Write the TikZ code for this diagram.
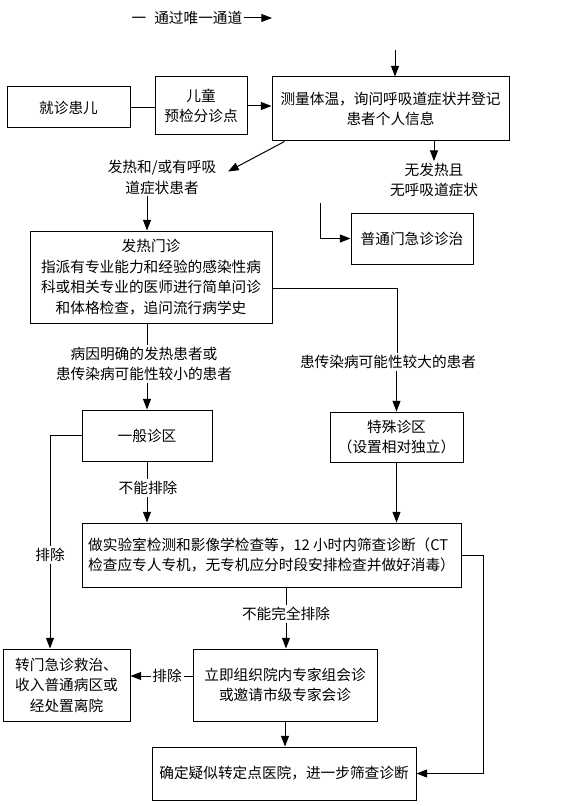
\documentclass[tikz,border=0pt]{standalone}
\usepackage{fontspec}
\newfontfamily\cjk{Noto Sans CJK SC}
\usetikzlibrary{arrows.meta,calc}

\begin{document}
\begin{tikzpicture}[x=0.75pt, y=-0.75pt, line width=0.75pt,
		every node/.style={font=\cjk\fontsize{11pt}{15.4pt}\selectfont},
		box/.style={draw, align=center, inner sep=0pt},
		lbl/.style={align=center, inner sep=1pt},
		arr/.style={-{Triangle[length=8pt, width=6pt]}}]
	\useasboundingbox (0,0) rectangle (565,806);
		\node[lbl](entry) at (187,18) {一\hspace{6pt}通过唯一通道};
		\coordinate (entryend) at (272,18);
		\coordinate (arrive) at (395,50);
		\node[box, minimum width=92.25pt, minimum height=30.75pt](patient) at (68.5,107.5) {就诊患儿};
		\node[box, minimum width=69pt, minimum height=43.5pt](triage) at (201,106) {儿童\\预检分诊点};
		\node[box, minimum width=177.75pt, minimum height=48pt](measure) at (390.5,109) {测量体温，询问呼吸道症状并登记\\患者个人信息};
		\node[lbl](fever) at (162,177.5) {发热和/或有呼吸\\道症状患者};
		\node[lbl](nofever) at (434,180) {无发热且\\无呼吸道症状};
		\coordinate (turn) at (320,203);
		\node[box, minimum width=91.5pt, minimum height=38.25pt](normal) at (412,238.5) {普通门急诊诊治};
		\node[box, minimum width=181.5pt, minimum height=69pt](clinic) at (151,277) {发热门诊\\指派有专业能力和经验的感染性病\\科或相关专业的医师进行简单问诊\\和体格检查，追问流行病学史};
		\node[lbl](high) at (388,362) {患传染病可能性较大的患者};
		\node[lbl](low) at (144,364) {病因明确的发热患者或\\患传染病可能性较小的患者};
		\node[box, minimum width=97.5pt, minimum height=38.25pt](general) at (147,435.5) {一般诊区};
		\node[box, minimum width=99.75pt, minimum height=37.5pt](special) at (396.5,437) {特殊诊区\\（设置相对独立）};
		\node[lbl](notexcl1) at (148,488) {不能排除};
		\node[box, align=left, minimum width=284.25pt, minimum height=48pt](lab) at (271.5,555) {做实验室检测和影像学检查等，12 小时内筛查诊断（CT\\检查应专人专机，无专机应分时段安排检查并做好消毒）};
		\node[lbl](excl1) at (50,555) {排除};
		\node[lbl](notexcl2) at (286,614) {不能完全排除};
		\node[box, minimum width=95.25pt, minimum height=54pt](transfer) at (66.5,685) {转门急诊救治、\\收入普通病区或\\经处置离院};
		\node[box, minimum width=138pt, minimum height=54pt](expert) at (285,685) {立即组织院内专家组会诊\\或邀请市级专家会诊};
		\node[lbl](excl2) at (167,676) {排除};
		\node[box, minimum width=198pt, minimum height=39.75pt](confirm) at (284,773.5) {确定疑似转定点医院，进一步筛查诊断};

		\draw[arr] (entry.east) -- (entryend);
		\draw[arr] (arrive) -- (arrive |- measure.north);
		\draw (patient.east) -- (patient.east -| triage.west);
		\draw[arr] (triage.east) -- (triage.east -| measure.west);
		\draw[arr] ([xshift=9.75pt]measure.south west) -- ($(fever.east)+(10,-6)$);
		\draw[arr] (nofever.north |- measure.south) -- (nofever.north);
		\draw[arr] (turn) |- (normal.west);
		\draw[arr] (general.north |- fever.south) -- (general.north |- clinic.north);
		\draw ([yshift=-8.25pt]clinic.east) -| ($(high.north)+(9,0)$);
		\draw[arr] (special.north |- high.south) -- (special.north);
		\draw (general.north |- clinic.south) -- (general.north |- low.north);
		\draw[arr] (general.north |- low.south) -- (general.north);
		\draw (general.south) -- (general.south |- notexcl1.north);
		\draw[arr] (general.south |- notexcl1.south) -- (general.south |- lab.north);
		\draw[arr] (special.south) -- (special.south |- lab.north);
		\draw (general.west) -| (excl1.north);
		\draw[arr] (excl1.south) -- (excl1.south |- transfer.north);
		\draw[arr] (lab.east) -- ++(22,0) |- (confirm.east);
		\draw (notexcl2.north |- lab.south) -- (notexcl2.north);
		\draw[arr] (notexcl2.south) -- (notexcl2.south |- expert.north);
		\draw (excl2.east -| expert.west) -- (excl2.east);
		\draw[arr] (excl2.west) -- (excl2.west -| transfer.east);
		\draw[arr] (expert.south) -- (expert.south |- confirm.north);
	\end{tikzpicture}
\end{document}
